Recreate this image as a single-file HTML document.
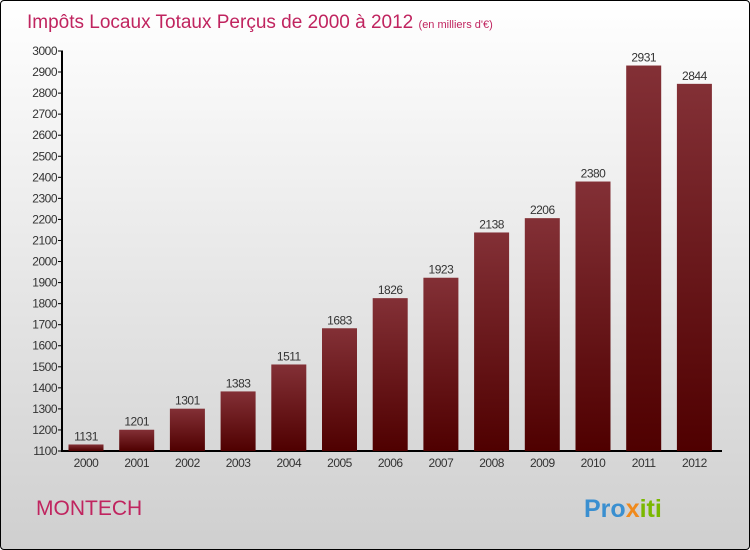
<!DOCTYPE html>
<html><head><meta charset="utf-8"><style>
body{margin:0}
#c{position:relative;width:748px;height:548px;border:1px solid #000;border-radius:4px;background:linear-gradient(#fff,#cfcfcf);overflow:hidden;font-family:"Liberation Sans",sans-serif}
</style></head><body>
<div id="c">
<svg width="748" height="548">
<defs><linearGradient id="g" x1="0" y1="0" x2="0" y2="1"><stop offset="0" stop-color="#833036"/><stop offset="1" stop-color="#4f0000"/></linearGradient></defs>
<text x="26" y="27" font-size="19" fill="#c0245f">Impôts Locaux Totaux Perçus de 2000 à 2012 <tspan font-size="11">(en milliers d'€)</tspan></text>
<g id="ax"></g><g id="bars"></g>
<text x="35" y="514" font-size="21" fill="#c0245f">MONTECH</text>
<text x="583" y="516" font-size="25" font-weight="bold"><tspan fill="#3a8fd0">Pro</tspan><tspan fill="#f08a1c">x</tspan><tspan fill="#7ab800">iti</tspan></text>
</svg></div>
<script>
const years=["2000","2001","2002","2003","2004","2005","2006","2007","2008","2009","2010","2011","2012"];
const values=[1131,1201,1301,1383,1511,1683,1826,1923,2138,2206,2380,2931,2844];
const ticks=[1100,1200,1300,1400,1500,1600,1700,1800,1900,2000,2100,2200,2300,2400,2500,2600,2700,2800,2900,3000];
const NS="http://www.w3.org/2000/svg";
const y=v=>450-(v-1100)*400/1900;
const x=i=>85+i*50.7;
function mk(t,a,p,txt){const e=document.createElementNS(NS,t);for(const k in a)e.setAttribute(k,a[k]);if(txt!==undefined)e.textContent=txt;p.appendChild(e);return e;}
const ax=document.getElementById('ax'),bg=document.getElementById('bars');
let l=mk('line',{x1:61,y1:50,x2:61,y2:451,stroke:'#000','stroke-width':2},ax);

l=mk('line',{x1:60,y1:450,x2:721,y2:450,stroke:'#000','stroke-width':2},ax);

ticks.forEach(t=>{
 mk('line',{x1:57,y1:y(t),x2:62,y2:y(t),stroke:'#000'},ax);
 const e=mk('text',{x:56,y:y(t)+4,'font-size':12,'text-anchor':'end',fill:'#333','letter-spacing':'-0.5'},ax,t);
 
});
values.forEach((v,i)=>{
 const r=mk('rect',{x:x(i)-17.5,y:y(v),width:35,height:450-y(v),fill:'url(#g)'},bg);
 
 const t=mk('text',{x:x(i),y:y(v)-4,'font-size':12,'text-anchor':'middle',fill:'#333','letter-spacing':'-0.5'},bg,v);
 
 const xl=mk('text',{x:x(i),y:466,'font-size':12,'text-anchor':'middle',fill:'#333','letter-spacing':'-0.5'},bg,years[i]);
 
});
</script>
</body></html>
